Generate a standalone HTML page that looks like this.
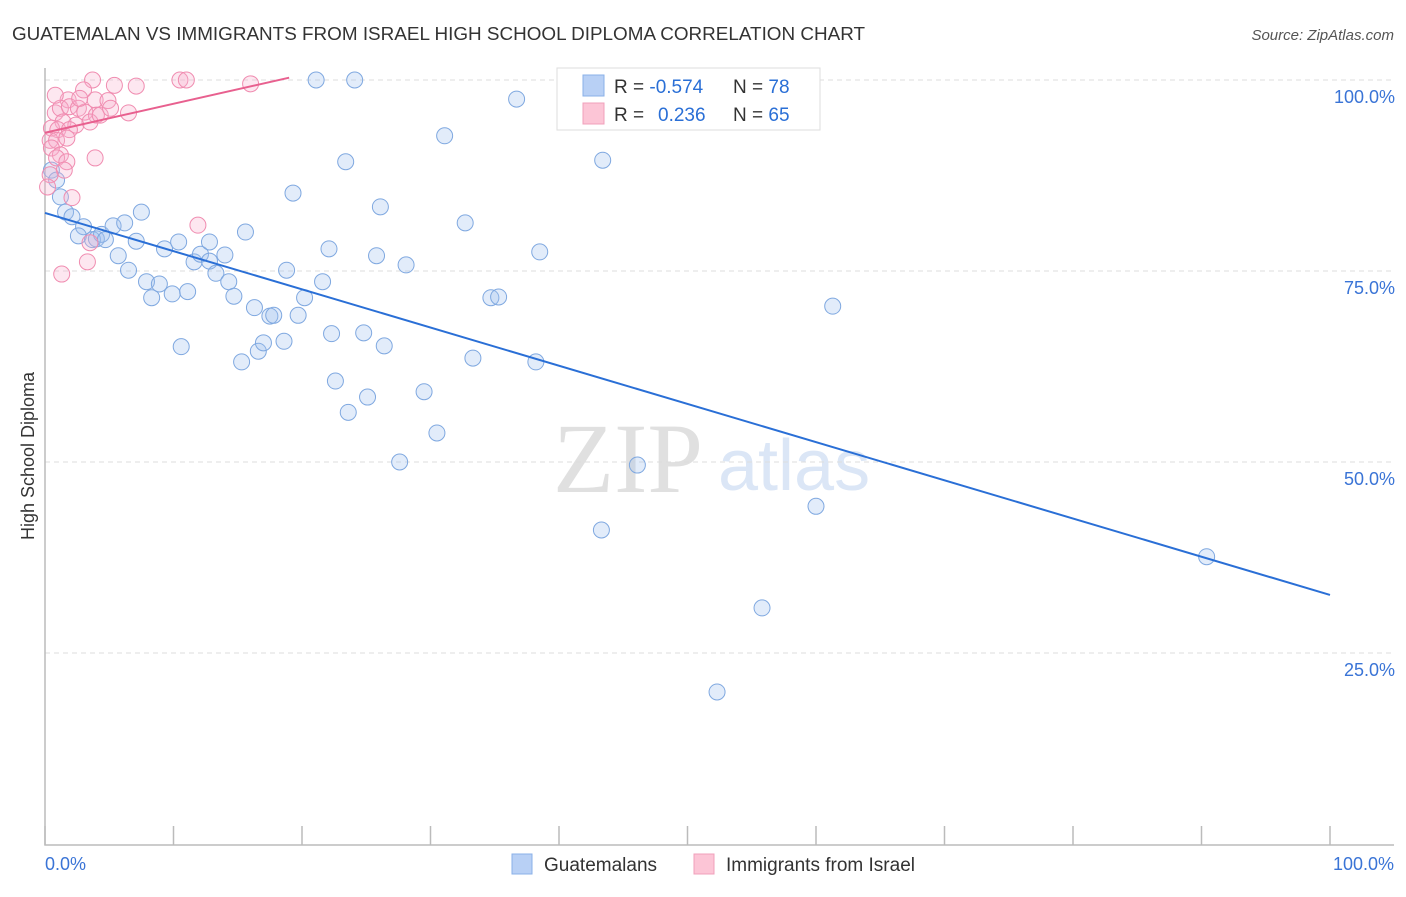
<!DOCTYPE html>
<html><head><meta charset="utf-8"><style>
body{margin:0;background:#fff;font-family:"Liberation Sans",sans-serif;}
</style></head><body>
<svg id="chart" width="1406" height="892" xmlns="http://www.w3.org/2000/svg">
<text x="12" y="40" font-size="18" fill="#333" textLength="853" lengthAdjust="spacingAndGlyphs">GUATEMALAN VS IMMIGRANTS FROM ISRAEL HIGH SCHOOL DIPLOMA CORRELATION CHART</text>
<text x="1394" y="40" font-size="15" fill="#555" font-style="italic" text-anchor="end">Source: ZipAtlas.com</text>
<text x="34" y="456" font-size="18" fill="#333" text-anchor="middle" transform="rotate(-90 34 456)">High School Diploma</text>
<g><text x="553" y="492" font-size="100" font-family="Liberation Serif,serif" fill="#e0e0e0">ZIP</text><text x="718" y="490" font-size="72" fill="#dbe6f6">atlas</text></g>
<g id="grid"></g><g id="axes"></g><g id="pts"></g><g id="lines"></g>
<g>
<rect x="557" y="68" width="263" height="62" fill="#fff" stroke="#ddd"/>
<rect x="583" y="75" width="21" height="21" fill="#b8d0f5" stroke="#8ab0e8"/>
<rect x="583" y="103" width="21" height="21" fill="#fcc5d6" stroke="#f0a0bb"/>
<text x="614" y="93" font-size="19" fill="#333">R = <tspan fill="#2a6fd6">-0.574</tspan></text>
<text x="733" y="93" font-size="19" fill="#333">N = <tspan fill="#2a6fd6">78</tspan></text>
<text x="614" y="121" font-size="19" fill="#333">R = <tspan fill="#2a6fd6" x="658">0.236</tspan></text>
<text x="733" y="121" font-size="19" fill="#333">N = <tspan fill="#2a6fd6">65</tspan></text>
</g>
<g>
<rect x="512" y="854" width="20" height="20" fill="#b8d0f5" stroke="#8ab0e8"/>
<text x="544" y="871" font-size="19" fill="#333">Guatemalans</text>
<rect x="694" y="854" width="20" height="20" fill="#fcc5d6" stroke="#f0a0bb"/>
<text x="726" y="871" font-size="19" fill="#333">Immigrants from Israel</text>
</g>
</svg>
<script>
const blueX=[21.1,24.1,36.7,31.1,43.4,23.4,19.3,26.1,32.7,38.5,22.1,25.8,28.1,61.3,34.7,35.3,33.3,38.2,29.5,25.1,23.6,22.6,30.5,27.6,46.1,60.0,43.3,90.4,55.8,52.3,0.5,0.9,1.2,1.6,2.1,3.0,2.6,3.7,4.0,4.4,4.7,5.3,6.2,7.5,5.7,6.5,7.1,7.9,8.3,8.9,9.3,9.9,10.4,10.6,11.1,11.6,12.1,12.8,12.8,13.3,14.0,14.3,14.7,15.6,15.3,16.3,16.6,17.0,17.5,17.8,18.6,18.8,19.7,20.2,21.6,22.3,24.8,26.4];
const blueY=[100,100,97.5,92.7,89.5,89.3,85.2,83.4,81.3,77.5,77.9,77.0,75.8,70.4,71.5,71.6,63.6,63.1,59.2,58.5,56.5,60.6,53.8,50.0,49.6,44.2,41.1,37.6,30.9,19.9,88.2,86.9,84.7,82.7,82.1,80.8,79.6,79.1,79.2,79.8,79.1,80.9,81.3,82.7,77.0,75.1,78.9,73.6,71.5,73.3,77.9,72.0,78.8,65.1,72.3,76.2,77.2,78.8,76.3,74.7,77.1,73.6,71.7,80.1,63.1,70.2,64.5,65.6,69.1,69.2,65.8,75.1,69.2,71.5,73.6,66.8,66.9,65.2];
const pinkX=[3.7,10.5,11.0,16.0,7.1,5.4,3.0,1.8,3.9,4.9,0.8,1.2,1.9,2.6,3.1,4.0,6.5,1.4,2.4,3.5,0.5,1.0,1.9,0.4,0.9,1.7,0.5,1.2,0.9,1.7,3.9,1.5,0.4,0.2,2.1,11.9,3.5,3.3,1.3,4.3,5.1,2.7,0.8];
const pinkY=[100,100,100,99.5,99.2,99.3,98.7,97.4,97.4,97.3,95.7,96.3,96.5,96.3,95.8,95.4,95.7,94.5,94.1,94.5,93.7,93.5,93.5,92.1,92.1,92.4,91.1,90.2,89.8,89.3,89.8,88.2,87.6,86.0,84.6,81.0,78.7,76.2,74.6,95.4,96.3,97.6,98.0];
const blueFit=[82.6,32.6]; const pinkFit=[93.1,100.3,19];
const yTicks=[25,50,75,100]; const yTickLabels=["25.0%","50.0%","75.0%","100.0%"];
const xTicks=[0,10,20,30,40,50,60,70,80,90,100];
const NS="http://www.w3.org/2000/svg";
const sx=v=>45+v*12.85, sy=v=>844-v*7.64;
function mk(t,a,p){const e=document.createElementNS(NS,t);for(const k in a)e.setAttribute(k,a[k]);document.getElementById(p).appendChild(e);return e;}
yTicks.forEach((t,i)=>{
 const g=mk('line',{x1:45,x2:1394,y1:sy(t),y2:sy(t),stroke:'#ddd','stroke-dasharray':'5,4'},'grid');
 
 
 const l=mk('text',{x:1395,y:sy(t)+23,'font-size':18,fill:'#3a74d6','text-anchor':'end'},'grid');l.textContent=yTickLabels[i];
 
 
});
const ax=mk('path',{d:'M45 68V845H1394',fill:'none',stroke:'#bbb','stroke-width':1.5},'axes');


xTicks.forEach(t=>{const k=mk('line',{x1:sx(t),x2:sx(t),y1:826,y2:845,stroke:'#bbb','stroke-width':1.5},'axes');
 
 });
const x0=mk('text',{x:45,y:870,'font-size':18,fill:'#3a74d6'},'axes');x0.textContent='0.0%';


const x1=mk('text',{x:1394,y:870,'font-size':18,fill:'#3a74d6','text-anchor':'end'},'axes');x1.textContent='100.0%';


blueX.forEach((v,i)=>{const c=mk('circle',{cx:sx(v),cy:sy(blueY[i]),r:8,fill:'rgba(160,192,240,0.3)',stroke:'#7fa8e0','stroke-width':1},'pts');
 
 });
pinkX.forEach((v,i)=>{const c=mk('circle',{cx:sx(v),cy:sy(pinkY[i]),r:8,fill:'rgba(250,175,205,0.3)',stroke:'#f08cb0','stroke-width':1},'pts');
 
 });
const bl=mk('line',{x1:sx(0),y1:sy(blueFit[0]),x2:sx(100),y2:sy(blueFit[1]),stroke:'#2a6fd6','stroke-width':2},'lines');


const pl=mk('line',{x1:sx(0),y1:sy(pinkFit[0]),x2:sx(pinkFit[2]),y2:sy(pinkFit[1]),stroke:'#e8608f','stroke-width':2},'lines');


</script>
</body></html>
